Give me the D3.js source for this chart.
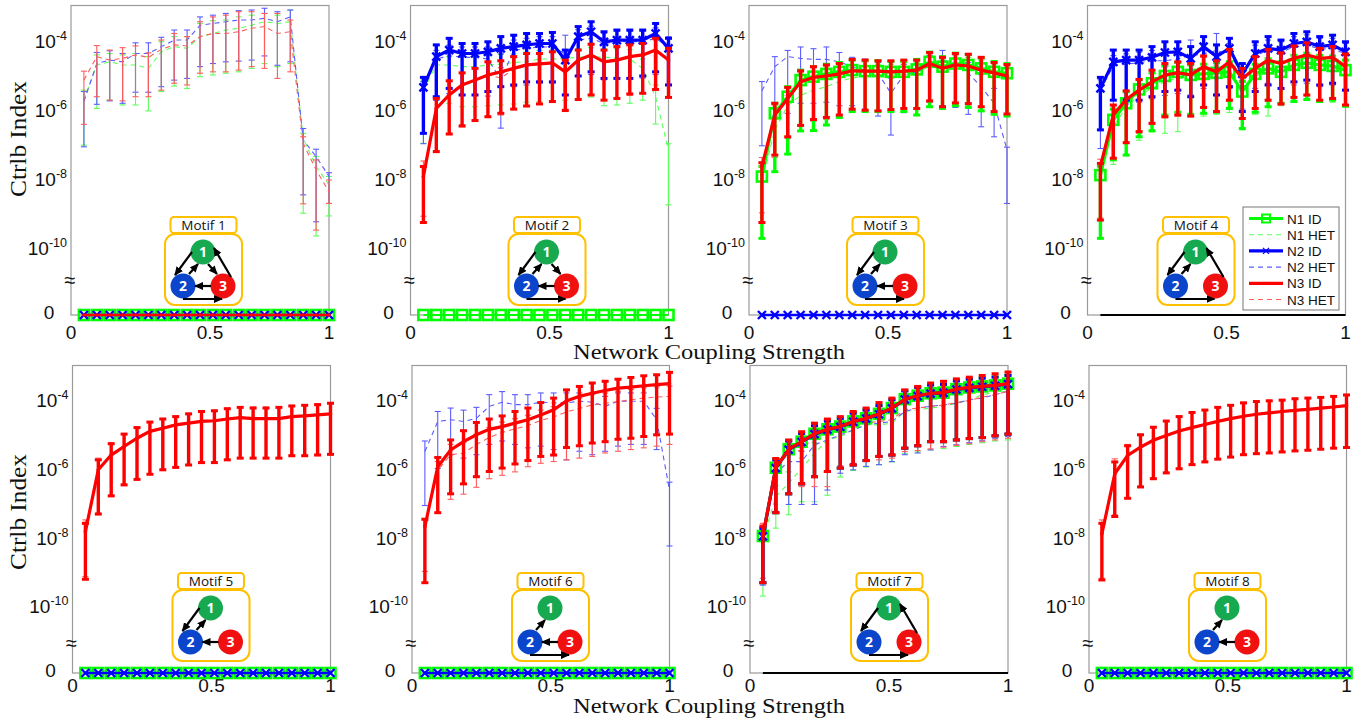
<!DOCTYPE html>
<html><head><meta charset="utf-8">
<script src="https://cdn.jsdelivr.net/npm/d3@7/dist/d3.min.js"></script>
<style>body{margin:0;background:#fff}svg{display:block}</style>
</head><body>
<svg id="c" width="1364" height="720"></svg>
<script>
// ---------------- DATA (values are log10 of Ctrlb Index: [mean, lower, upper]) ----------------
const xVals = [0.05,0.10,0.15,0.20,0.25,0.30,0.35,0.40,0.45,0.50,0.55,0.60,0.65,0.70,0.75,0.80,0.85,0.90,0.95,1.00];
const xTicks = [0, 0.5, 1];
const yTickExps = [-4, -6, -8, -10];
const seriesNames = ["N1 ID","N1 HET","N2 ID","N2 HET","N3 ID","N3 HET"];
const motifNames = ["Motif 1","Motif 2","Motif 3","Motif 4","Motif 5","Motif 6","Motif 7","Motif 8"];
const motifEdges = [
  ["1>2","2>1","1>3","3>1","3>2","2>3"],
  ["1>2","2>1","1>3","3>2","2>3"],
  ["1>2","2>1","3>2","2>3"],
  ["1>2","2>1","3>1","2>3"],
  ["1>2","2>1","3>2"],
  ["2>1","3>2","2>3"],
  ["1>2","3>1","2>3"],
  ["2>1","3>2"]
];
const ZERO = [0,0,0,0,0,0,0,0,0,0,0,0,0,0,0,0,0,0,0,0];

const p1_n1het = [[-5.74,-7.04,-5.45],[-4.72,-5.98,-4.43],[-4.63,-5.74,-4.39],[-4.72,-5.88,-4.43],[-4.72,-5.88,-4.39],[-4.82,-6.05,-4.48],[-4.34,-5.49,-4.05],[-4.19,-5.33,-3.90],[-4.24,-5.40,-3.90],[-3.90,-5.06,-3.52],[-3.81,-5.01,-3.44],[-3.71,-4.96,-3.42],[-3.66,-4.92,-3.33],[-3.57,-4.82,-3.28],[-3.47,-4.68,-3.23],[-3.52,-4.77,-3.28],[-3.47,-4.68,-3.13],[-6.85,-9.01,-6.70],[-7.66,-9.67,-7.37],[-8.19,-9.09,-7.95]];
const p1_n2het = [[-5.78,-7.09,-5.49],[-4.68,-5.86,-4.36],[-4.58,-5.76,-4.31],[-4.63,-5.83,-4.39],[-4.39,-5.51,-4.08],[-4.39,-5.51,-4.08],[-4.19,-5.35,-3.92],[-4.00,-5.16,-3.71],[-4.00,-5.11,-3.71],[-3.57,-4.77,-3.33],[-3.52,-4.68,-3.28],[-3.47,-4.63,-3.23],[-3.42,-4.61,-3.15],[-3.42,-4.58,-3.13],[-3.37,-4.46,-3.08],[-3.47,-4.73,-3.18],[-3.33,-4.63,-3.13],[-6.89,-8.48,-6.56],[-7.37,-9.26,-7.16],[-7.95,-8.73,-7.84]];
const p1_n3het = [[-5.16,-6.44,-4.90],[-4.48,-5.64,-4.16],[-4.58,-5.74,-4.29],[-4.53,-5.76,-4.22],[-4.43,-5.64,-4.17],[-4.50,-5.64,-4.37],[-4.27,-5.45,-4.00],[-4.14,-5.25,-3.81],[-4.17,-5.30,-3.90],[-3.90,-4.96,-3.47],[-3.81,-4.92,-3.33],[-3.81,-4.92,-3.28],[-3.76,-4.87,-3.18],[-3.66,-4.77,-3.18],[-3.61,-4.82,-3.23],[-3.81,-5.11,-3.23],[-3.76,-4.92,-3.42],[-6.99,-8.74,-6.80],[-7.76,-9.50,-7.47],[-8.39,-8.73,-8.05]];

const p2_n1het = [[-5.45,-6.99,-5.16],[-4.72,-5.74,-4.48],[-4.72,-5.83,-4.48],[-4.77,-5.93,-4.48],[-4.77,-5.93,-4.50],[-4.72,-5.90,-4.45],[-4.70,-5.88,-4.42],[-4.65,-5.85,-4.40],[-4.62,-5.80,-4.35],[-4.55,-5.78,-4.30],[-4.55,-5.75,-4.30],[-4.53,-5.74,-4.30],[-4.50,-5.70,-4.25],[-4.48,-5.65,-4.22],[-4.50,-5.90,-4.25],[-4.52,-5.88,-4.25],[-4.55,-5.83,-4.28],[-4.82,-5.74,-4.55],[-5.64,-6.43,-5.30],[-7.18,-8.77,-7.00]];
const p2_n2het = [[-5.45,-7.00,-5.20],[-4.55,-5.75,-4.30],[-4.45,-5.55,-4.15],[-4.50,-5.60,-4.20],[-4.50,-5.60,-4.20],[-4.55,-5.62,-4.20],[-5.15,-6.55,-4.40],[-4.30,-5.35,-4.00],[-4.25,-5.30,-3.95],[-4.20,-5.25,-3.90],[-4.20,-5.25,-3.90],[-4.40,-5.60,-3.86],[-4.00,-5.05,-3.70],[-3.95,-5.00,-3.60],[-4.10,-5.15,-3.80],[-4.05,-5.10,-3.75],[-4.05,-5.10,-3.75],[-4.05,-5.10,-3.75],[-3.95,-5.00,-3.65],[-4.20,-5.30,-3.90]];
const p2_n3het = [[-7.80,-9.10,-7.50],[-6.00,-7.20,-5.70],[-5.55,-6.70,-5.20],[-5.30,-6.45,-4.95],[-5.15,-6.30,-4.80],[-5.00,-6.20,-4.65],[-5.10,-6.17,-4.80],[-4.85,-6.00,-4.50],[-4.75,-5.90,-4.40],[-4.70,-5.85,-4.40],[-4.65,-5.75,-4.35],[-4.90,-6.00,-4.60],[-4.60,-5.70,-4.30],[-4.45,-5.60,-4.15],[-4.60,-5.75,-4.30],[-4.55,-5.70,-4.20],[-4.50,-5.60,-4.15],[-4.45,-5.55,-4.10],[-4.35,-5.45,-4.00],[-4.55,-5.65,-4.25]];
const p2_n2id = [[-5.37,-6.70,-5.08],[-4.48,-5.64,-4.14],[-4.29,-5.40,-3.95],[-4.39,-5.59,-4.10],[-4.39,-5.59,-4.10],[-4.34,-5.49,-4.05],[-4.24,-5.35,-3.90],[-4.19,-5.30,-3.86],[-4.14,-5.21,-3.81],[-4.10,-5.21,-3.81],[-4.10,-5.21,-3.78],[-4.58,-5.59,-4.29],[-3.90,-5.04,-3.61],[-3.76,-4.92,-3.47],[-4.05,-5.11,-3.76],[-4.00,-5.11,-3.71],[-4.00,-5.11,-3.71],[-4.00,-5.04,-3.71],[-3.81,-4.92,-3.52],[-4.24,-5.30,-3.95]];
const p2_n3id = [[-7.95,-9.28,-7.66],[-5.98,-7.23,-5.69],[-5.59,-6.72,-5.18],[-5.30,-6.49,-4.95],[-5.16,-6.33,-4.82],[-5.01,-6.22,-4.63],[-4.92,-6.12,-4.60],[-4.82,-6.00,-4.48],[-4.72,-5.91,-4.39],[-4.69,-5.85,-4.39],[-4.66,-5.78,-4.34],[-4.92,-6.04,-4.58],[-4.58,-5.72,-4.29],[-4.43,-5.59,-4.12],[-4.63,-5.74,-4.29],[-4.58,-5.69,-4.19],[-4.48,-5.56,-4.14],[-4.43,-5.54,-4.10],[-4.29,-5.43,-3.95],[-4.58,-5.66,-4.24]];

const p3_n1het = [[-8.10,-9.74,-7.80],[-6.60,-7.81,-6.30],[-5.90,-7.30,-5.60],[-5.60,-6.63,-5.30],[-5.45,-6.60,-5.15],[-5.35,-6.45,-5.05],[-5.20,-6.24,-4.90],[-5.10,-6.07,-4.80],[-5.05,-6.07,-4.75],[-5.00,-6.07,-4.70],[-5.00,-6.07,-4.70],[-5.00,-6.07,-4.70],[-4.95,-6.17,-4.65],[-4.75,-5.93,-4.45],[-4.85,-5.98,-4.55],[-4.75,-5.90,-4.45],[-4.80,-5.95,-4.50],[-4.90,-6.05,-4.60],[-5.00,-6.15,-4.70],[-5.05,-6.20,-4.75]];
const p3_n2het = [[-5.47,-7.06,-5.20],[-4.77,-6.20,-4.48],[-4.48,-6.12,-4.30],[-4.53,-5.83,-4.20],[-4.56,-5.83,-4.25],[-4.56,-5.80,-4.20],[-4.63,-5.90,-4.36],[-4.77,-5.90,-4.50],[-4.87,-6.00,-4.55],[-4.96,-6.20,-4.65],[-5.54,-6.75,-5.10],[-5.01,-6.10,-4.70],[-4.92,-6.00,-4.60],[-4.77,-5.80,-4.45],[-4.58,-5.90,-4.30],[-4.68,-5.95,-4.40],[-4.96,-6.15,-4.65],[-5.35,-6.51,-5.00],[-5.83,-6.80,-5.40],[-7.18,-8.73,-7.10]];
const p3_n3het = [[-7.60,-9.00,-7.40],[-6.20,-7.40,-5.90],[-5.70,-6.85,-5.40],[-5.25,-6.50,-4.95],[-5.10,-6.35,-4.80],[-5.05,-6.30,-4.75],[-5.00,-6.20,-4.70],[-4.90,-6.05,-4.60],[-4.92,-6.05,-4.60],[-4.92,-6.05,-4.62],[-4.93,-6.05,-4.62],[-4.90,-6.00,-4.60],[-4.88,-6.00,-4.60],[-4.70,-5.80,-4.40],[-4.80,-5.95,-4.52],[-4.73,-5.85,-4.42],[-4.76,-5.88,-4.45],[-4.88,-5.95,-4.55],[-4.96,-6.08,-4.68],[-5.05,-6.15,-4.75]];
const p3_n1id = [[-7.95,-9.74,-7.66],[-6.12,-7.81,-5.83],[-5.64,-7.30,-5.35],[-5.16,-6.63,-4.87],[-5.06,-6.62,-4.77],[-4.98,-6.46,-4.70],[-4.92,-6.24,-4.65],[-4.87,-6.07,-4.58],[-4.90,-6.07,-4.60],[-4.90,-6.07,-4.60],[-4.92,-6.07,-4.62],[-4.92,-6.07,-4.62],[-4.85,-6.17,-4.56],[-4.63,-5.93,-4.35],[-4.77,-5.98,-4.48],[-4.68,-5.90,-4.38],[-4.72,-5.95,-4.42],[-4.82,-6.05,-4.52],[-4.92,-6.15,-4.62],[-4.96,-6.20,-4.68]];
const p3_n3id = [[-7.66,-9.28,-7.55],[-6.17,-7.33,-5.83],[-5.69,-6.80,-5.37],[-5.21,-6.47,-4.89],[-5.08,-6.30,-4.77],[-5.04,-6.24,-4.72],[-4.98,-6.17,-4.68],[-4.89,-6.00,-4.56],[-4.90,-6.03,-4.58],[-4.90,-6.05,-4.60],[-4.92,-6.01,-4.60],[-4.90,-5.98,-4.58],[-4.87,-5.98,-4.58],[-4.68,-5.76,-4.36],[-4.82,-5.93,-4.50],[-4.72,-5.82,-4.39],[-4.75,-5.84,-4.41],[-4.87,-5.93,-4.50],[-4.95,-6.07,-4.65],[-5.04,-6.14,-4.71]];

const p4_n1het = [[-7.95,-9.74,-7.70],[-6.50,-7.60,-6.20],[-5.95,-7.33,-5.70],[-5.60,-6.90,-5.30],[-5.40,-6.60,-5.10],[-5.20,-6.70,-4.90],[-5.10,-6.65,-4.80],[-5.15,-6.20,-4.85],[-5.10,-6.20,-4.80],[-5.05,-6.15,-4.75],[-5.00,-6.10,-4.70],[-5.45,-6.60,-5.15],[-5.05,-6.15,-4.75],[-4.90,-6.20,-4.60],[-4.95,-5.90,-4.65],[-4.80,-5.80,-4.50],[-4.75,-5.75,-4.45],[-4.80,-5.80,-4.50],[-4.80,-5.80,-4.50],[-4.90,-5.95,-4.60]];
const p4_n2het = [[-5.45,-7.14,-5.15],[-4.75,-5.90,-4.45],[-4.70,-5.85,-4.40],[-4.65,-5.80,-4.35],[-4.60,-5.70,-4.30],[-4.60,-5.60,-4.30],[-4.55,-5.55,-4.25],[-4.45,-5.59,-4.00],[-4.40,-5.40,-4.10],[-4.30,-5.59,-3.81],[-4.40,-5.40,-4.10],[-5.00,-6.00,-4.70],[-4.45,-5.40,-4.15],[-4.30,-5.25,-4.00],[-4.35,-5.40,-4.05],[-4.20,-5.30,-3.90],[-4.15,-5.25,-3.85],[-4.25,-5.35,-3.95],[-4.25,-5.30,-3.95],[-4.40,-5.45,-4.10]];
const p4_n3het = [[-7.70,-9.15,-7.45],[-6.20,-7.45,-5.90],[-5.75,-7.00,-5.50],[-5.45,-6.70,-5.15],[-5.22,-6.45,-4.90],[-5.02,-6.25,-4.70],[-4.97,-6.20,-4.65],[-5.02,-6.22,-4.70],[-4.80,-5.98,-4.50],[-4.93,-6.10,-4.62],[-4.65,-5.78,-4.30],[-5.10,-6.30,-4.85],[-4.83,-6.00,-4.50],[-4.60,-5.78,-4.30],[-4.70,-5.88,-4.40],[-4.55,-5.70,-4.20],[-4.45,-5.62,-4.10],[-4.55,-5.77,-4.25],[-4.52,-5.72,-4.20],[-4.78,-5.90,-4.45]];
const p4_n1id = [[-7.91,-9.74,-7.65],[-6.31,-7.47,-6.00],[-5.83,-7.33,-5.50],[-5.43,-6.80,-5.15],[-5.25,-6.63,-4.95],[-5.04,-6.17,-4.75],[-4.92,-6.09,-4.65],[-5.01,-6.15,-4.72],[-4.98,-6.12,-4.70],[-4.95,-6.09,-4.66],[-4.92,-5.98,-4.63],[-5.49,-6.56,-5.20],[-4.98,-6.09,-4.70],[-4.82,-5.93,-4.54],[-4.92,-5.83,-4.63],[-4.72,-5.78,-4.44],[-4.66,-5.72,-4.38],[-4.72,-5.78,-4.44],[-4.75,-5.74,-4.46],[-4.87,-5.91,-4.58]];
const p4_n2id = [[-5.40,-6.60,-5.08],[-4.63,-5.74,-4.29],[-4.58,-5.74,-4.29],[-4.58,-5.74,-4.29],[-4.50,-5.64,-4.19],[-4.36,-5.49,-4.05],[-4.34,-5.45,-4.05],[-4.53,-5.64,-4.19],[-4.19,-5.30,-3.90],[-4.48,-5.59,-4.14],[-4.24,-5.35,-3.95],[-4.98,-6.07,-4.68],[-4.39,-5.49,-4.05],[-4.24,-5.30,-3.90],[-4.29,-5.40,-4.00],[-4.10,-5.21,-3.81],[-4.05,-5.16,-3.76],[-4.19,-5.30,-3.90],[-4.14,-5.25,-3.86],[-4.34,-5.45,-4.05]];
const p4_n3id = [[-7.66,-9.21,-7.57],[-6.17,-7.42,-5.88],[-5.72,-6.97,-5.47],[-5.45,-6.65,-5.14],[-5.21,-6.41,-4.87],[-5.01,-6.22,-4.68],[-4.95,-6.17,-4.63],[-5.01,-6.20,-4.68],[-4.77,-5.95,-4.46],[-4.92,-6.07,-4.60],[-4.63,-5.74,-4.27],[-5.11,-6.27,-4.82],[-4.82,-5.98,-4.48],[-4.58,-5.74,-4.27],[-4.68,-5.85,-4.37],[-4.53,-5.66,-4.17],[-4.43,-5.59,-4.08],[-4.53,-5.74,-4.24],[-4.50,-5.69,-4.19],[-4.77,-5.88,-4.40]];

const p5_n3het = [[-7.75,-9.15,-7.50],[-6.00,-7.30,-5.70],[-5.58,-6.78,-5.25],[-5.33,-6.45,-4.98],[-5.10,-6.30,-4.79],[-4.90,-6.15,-4.63],[-4.81,-6.02,-4.54],[-4.71,-5.95,-4.47],[-4.66,-5.88,-4.39],[-4.61,-5.81,-4.32],[-4.59,-5.81,-4.30],[-4.54,-5.73,-4.24],[-4.50,-5.68,-4.20],[-4.52,-5.68,-4.21],[-4.52,-5.68,-4.21],[-4.52,-5.68,-4.20],[-4.47,-5.61,-4.16],[-4.45,-5.61,-4.14],[-4.42,-5.59,-4.12],[-4.39,-5.57,-4.08]];
const p5_n3id = [[-7.84,-9.23,-7.60],[-6.04,-7.33,-5.75],[-5.61,-6.80,-5.28],[-5.36,-6.48,-5.00],[-5.12,-6.32,-4.81],[-4.92,-6.17,-4.65],[-4.83,-6.04,-4.56],[-4.73,-5.97,-4.49],[-4.68,-5.90,-4.41],[-4.63,-5.83,-4.34],[-4.61,-5.83,-4.32],[-4.56,-5.75,-4.26],[-4.52,-5.70,-4.22],[-4.55,-5.70,-4.24],[-4.55,-5.70,-4.24],[-4.55,-5.70,-4.22],[-4.49,-5.63,-4.18],[-4.47,-5.63,-4.16],[-4.44,-5.61,-4.14],[-4.41,-5.59,-4.10]];

const p6_n2het = [[-5.51,-7.08,-5.20],[-4.63,-6.00,-4.34],[-4.58,-5.60,-4.24],[-4.63,-5.70,-4.30],[-4.54,-5.60,-4.22],[-4.19,-5.30,-3.85],[-4.07,-5.20,-3.76],[-4.14,-5.30,-3.85],[-4.14,-5.40,-3.85],[-4.07,-5.35,-3.80],[-4.09,-5.45,-3.80],[-4.09,-5.75,-3.80],[-4.04,-5.50,-3.80],[-4.07,-5.60,-3.80],[-4.19,-5.50,-3.90],[-4.04,-5.35,-3.80],[-4.04,-5.30,-3.80],[-4.04,-5.30,-3.80],[-4.58,-5.45,-4.25],[-6.63,-8.26,-6.40]];
const p6_n3het = [[-7.75,-9.00,-7.50],[-6.05,-7.30,-5.80],[-5.60,-6.90,-5.30],[-5.56,-6.75,-5.25],[-5.30,-6.55,-5.00],[-5.10,-6.30,-4.80],[-4.95,-6.20,-4.65],[-4.85,-6.10,-4.55],[-4.75,-5.95,-4.45],[-4.60,-5.85,-4.30],[-4.50,-5.80,-4.20],[-4.35,-5.75,-4.05],[-4.25,-5.70,-3.95],[-4.15,-5.65,-3.85],[-4.10,-5.55,-3.80],[-4.05,-5.50,-3.75],[-4.00,-5.45,-3.70],[-3.95,-5.40,-3.65],[-3.92,-5.35,-3.62],[-3.90,-5.30,-3.60]];
const p6_n3id = [[-7.70,-9.33,-7.48],[-5.95,-7.29,-5.68],[-5.46,-6.74,-5.17],[-5.22,-6.45,-4.90],[-5.02,-6.24,-4.66],[-4.86,-6.09,-4.56],[-4.78,-5.99,-4.47],[-4.68,-5.87,-4.34],[-4.58,-5.77,-4.24],[-4.44,-5.65,-4.08],[-4.29,-5.61,-3.95],[-4.03,-5.39,-3.71],[-3.90,-5.34,-3.61],[-3.81,-5.26,-3.51],[-3.73,-5.22,-3.46],[-3.66,-5.15,-3.40],[-3.63,-5.12,-3.35],[-3.59,-5.07,-3.30],[-3.56,-5.02,-3.27],[-3.53,-5.00,-3.20]];

const p7_n1het = [[-8.07,-9.72,-7.80],[-6.82,-7.74,-6.50],[-6.43,-7.35,-6.10],[-6.00,-6.97,-5.70],[-5.56,-6.97,-5.25],[-5.17,-6.78,-4.90],[-5.07,-6.25,-4.80],[-4.88,-6.06,-4.60],[-4.73,-5.96,-4.45],[-4.73,-5.89,-4.45],[-4.68,-5.81,-4.40],[-4.34,-5.57,-4.05],[-4.29,-5.52,-4.00],[-4.24,-5.46,-3.95],[-4.19,-5.42,-3.90],[-4.10,-5.36,-3.80],[-4.00,-5.30,-3.70],[-3.85,-5.25,-3.60],[-3.78,-5.20,-3.52],[-3.75,-5.17,-3.48]];
const p7_n2het = [[-8.00,-9.40,-7.75],[-6.14,-7.30,-5.85],[-5.80,-7.05,-5.50],[-5.80,-7.05,-5.50],[-5.31,-7.05,-5.00],[-5.17,-6.63,-4.88],[-5.02,-6.14,-4.75],[-4.88,-6.04,-4.60],[-4.73,-5.94,-4.45],[-4.68,-5.89,-4.40],[-4.63,-5.80,-4.35],[-4.34,-5.60,-4.05],[-4.24,-5.55,-3.95],[-4.19,-5.46,-3.90],[-4.15,-5.36,-3.85],[-4.10,-5.31,-3.80],[-4.00,-5.25,-3.72],[-3.95,-5.18,-3.67],[-3.85,-5.12,-3.58],[-3.75,-5.07,-3.48]];
const p7_n3het = [[-8.00,-9.20,-7.60],[-6.00,-7.25,-5.75],[-5.56,-6.75,-5.25],[-5.46,-6.53,-5.15],[-5.07,-6.53,-4.78],[-4.88,-6.53,-4.60],[-4.80,-5.92,-4.52],[-4.73,-5.85,-4.45],[-4.68,-5.80,-4.40],[-4.63,-5.75,-4.35],[-4.58,-5.70,-4.30],[-4.29,-5.51,-4.00],[-4.24,-5.48,-3.95],[-4.19,-5.43,-3.90],[-4.15,-5.38,-3.87],[-4.08,-5.33,-3.80],[-4.02,-5.28,-3.74],[-3.92,-5.22,-3.65],[-3.85,-5.17,-3.58],[-3.75,-5.12,-3.48]];
const p7_n1id = [[-7.97,-9.33,-7.72],[-5.98,-7.29,-5.73],[-5.44,-6.74,-5.19],[-5.22,-6.45,-4.97],[-4.99,-6.24,-4.74],[-4.86,-6.09,-4.61],[-4.78,-5.99,-4.53],[-4.63,-5.90,-4.38],[-4.54,-5.77,-4.29],[-4.41,-5.65,-4.16],[-4.24,-5.61,-3.99],[-3.98,-5.41,-3.73],[-3.88,-5.34,-3.63],[-3.81,-5.22,-3.56],[-3.79,-5.22,-3.54],[-3.69,-5.17,-3.44],[-3.64,-5.13,-3.39],[-3.61,-5.10,-3.36],[-3.58,-5.05,-3.33],[-3.53,-5.00,-3.28]];
const p7_n2id = [[-7.98,-9.33,-7.75],[-5.99,-7.29,-5.75],[-5.45,-6.74,-5.20],[-5.23,-6.45,-4.98],[-5.00,-6.24,-4.75],[-4.87,-6.09,-4.62],[-4.79,-5.99,-4.54],[-4.64,-5.90,-4.39],[-4.55,-5.77,-4.30],[-4.42,-5.65,-4.17],[-4.25,-5.61,-4.00],[-3.99,-5.41,-3.74],[-3.89,-5.34,-3.64],[-3.82,-5.22,-3.57],[-3.80,-5.22,-3.55],[-3.70,-5.17,-3.45],[-3.65,-5.13,-3.40],[-3.62,-5.10,-3.37],[-3.59,-5.05,-3.34],[-3.54,-5.00,-3.29]];
const p7_n3id = [[-7.97,-9.33,-7.68],[-5.98,-7.29,-5.71],[-5.44,-6.74,-5.17],[-5.22,-6.45,-4.93],[-4.99,-6.24,-4.68],[-4.86,-6.09,-4.56],[-4.78,-5.99,-4.49],[-4.63,-5.90,-4.34],[-4.54,-5.77,-4.24],[-4.41,-5.65,-4.08],[-4.24,-5.61,-3.95],[-3.98,-5.41,-3.71],[-3.88,-5.34,-3.61],[-3.81,-5.22,-3.51],[-3.79,-5.22,-3.46],[-3.69,-5.17,-3.39],[-3.64,-5.13,-3.34],[-3.61,-5.10,-3.29],[-3.58,-5.05,-3.24],[-3.53,-5.00,-3.19]];

const p8_n3het = [[-7.85,-9.20,-7.50],[-6.10,-7.35,-5.72],[-5.60,-6.85,-5.30],[-5.36,-6.52,-5.00],[-5.16,-6.28,-4.78],[-5.02,-6.11,-4.60],[-4.89,-5.99,-4.47],[-4.79,-5.87,-4.35],[-4.70,-5.79,-4.28],[-4.61,-5.71,-4.20],[-4.53,-5.65,-4.14],[-4.46,-5.58,-4.07],[-4.40,-5.55,-4.03],[-4.36,-5.53,-4.01],[-4.32,-5.50,-3.99],[-4.29,-5.47,-3.95],[-4.26,-5.45,-3.93],[-4.22,-5.42,-3.91],[-4.19,-5.39,-3.88],[-4.15,-5.37,-3.84]];
const p8_n3id = [[-7.91,-9.25,-7.60],[-6.16,-7.40,-5.81],[-5.62,-6.87,-5.34],[-5.38,-6.54,-5.02],[-5.18,-6.30,-4.80],[-5.04,-6.13,-4.62],[-4.91,-6.01,-4.49],[-4.81,-5.89,-4.37],[-4.72,-5.81,-4.30],[-4.63,-5.73,-4.22],[-4.55,-5.67,-4.16],[-4.48,-5.60,-4.09],[-4.42,-5.57,-4.05],[-4.38,-5.55,-4.03],[-4.34,-5.52,-4.01],[-4.31,-5.49,-3.97],[-4.28,-5.47,-3.95],[-4.24,-5.44,-3.93],[-4.21,-5.41,-3.90],[-4.17,-5.39,-3.86]];

// series per panel: node, kind ('het' | 'id' | 'zero'), data
const panelSeries = [
  [{n:1,k:'het',d:p1_n1het},{n:2,k:'het',d:p1_n2het},{n:3,k:'het',d:p1_n3het},{n:1,k:'zero',d:ZERO},{n:2,k:'zero',d:ZERO},{n:3,k:'zero',d:ZERO}],
  [{n:1,k:'het',d:p2_n1het},{n:2,k:'het',d:p2_n2het},{n:3,k:'het',d:p2_n3het},{n:2,k:'id',d:p2_n2id},{n:3,k:'id',d:p2_n3id},{n:1,k:'zero',d:ZERO}],
  [{n:1,k:'het',d:p3_n1het},{n:2,k:'het',d:p3_n2het},{n:3,k:'het',d:p3_n3het},{n:1,k:'id',d:p3_n1id},{n:3,k:'id',d:p3_n3id},{n:2,k:'zero',d:ZERO}],
  [{n:1,k:'het',d:p4_n1het},{n:2,k:'het',d:p4_n2het},{n:3,k:'het',d:p4_n3het},{n:1,k:'id',d:p4_n1id},{n:2,k:'id',d:p4_n2id},{n:3,k:'id',d:p4_n3id}],
  [{n:3,k:'het',d:p5_n3het},{n:3,k:'id',d:p5_n3id},{n:1,k:'zero',d:ZERO},{n:2,k:'zero',d:ZERO}],
  [{n:2,k:'het',d:p6_n2het},{n:3,k:'het',d:p6_n3het},{n:3,k:'id',d:p6_n3id},{n:1,k:'zero',d:ZERO},{n:2,k:'zero',d:ZERO}],
  [{n:1,k:'het',d:p7_n1het},{n:2,k:'het',d:p7_n2het},{n:3,k:'het',d:p7_n3het},{n:1,k:'id',d:p7_n1id},{n:2,k:'id',d:p7_n2id},{n:3,k:'id',d:p7_n3id}],
  [{n:3,k:'het',d:p8_n3het},{n:3,k:'id',d:p8_n3id},{n:1,k:'zero',d:ZERO},{n:2,k:'zero',d:ZERO}]
];

// ---------------- LAYOUT ----------------
const rows = [
  {yHi:5.5, yLo:281.9, yZero:315, yBreak:281, xLab:339, motifTop:234},
  {yHi:365.5, yLo:640, yZero:673, yBreak:644, xLab:692, motifTop:590}
];
const layout = [
  {row:0,x0:71,x1:329,mdx:94},{row:0,x0:410.5,x1:668.5,mdx:98},{row:0,x0:749,x1:1007,mdx:98},{row:0,x0:1087.5,x1:1345.5,mdx:70},
  {row:1,x0:72.5,x1:330.5,mdx:100},{row:1,x0:412,x1:669.5,mdx:100},{row:1,x0:750,x1:1008,mdx:101},{row:1,x0:1089,x1:1346.5,mdx:100}
];
const ID_COL = {1:'#00ff00',2:'#0000ff',3:'#ff0000'};
const HET_COL = {1:'#5cff5c',2:'#5c5cff',3:'#ff5c5c'};
const NODE_COL = {1:'#16a950',2:'#0a45cc',3:'#f01010'};
const SANS = "'Liberation Sans', Arial, sans-serif";
const SERIF = "'Liberation Serif', 'DejaVu Serif', serif";

const svg = d3.select('#c');
const defs = svg.append('defs');
defs.append('marker').attr('id','ah').attr('markerUnits','userSpaceOnUse')
  .attr('markerWidth',9).attr('markerHeight',8).attr('refX',8).attr('refY',4).attr('orient','auto')
  .append('path').attr('d','M0,0 L9,4 L0,8 Z').attr('fill','#000');

function marker(g, n, cx, cy, big) {
  if (n === 1) {
    const s = big ? 10 : 8;
    g.append('rect').attr('x',cx-s/2).attr('y',cy-s/2).attr('width',s).attr('height',s)
      .attr('fill','none').attr('stroke',ID_COL[1]).attr('stroke-width',big?2.6:2);
  } else if (n === 2) {
    const s = big ? 4 : 3;
    g.append('path').attr('d',`M${cx-s},${cy-s}L${cx+s},${cy+s}M${cx-s},${cy+s}L${cx+s},${cy-s}`)
      .attr('stroke',ID_COL[2]).attr('stroke-width',big?2.4:1.2).attr('fill','none');
  } else {
    g.append('circle').attr('cx',cx).attr('cy',cy).attr('r',big?1.8:1.6).attr('fill',ID_COL[3]);
  }
}

layout.forEach((L, pi) => {
  const R = rows[L.row];
  const x = d3.scaleLinear().domain([0,1]).range([L.x0, L.x1]);
  const y = d3.scaleLog().domain([1e-11, 1e-3]).range([R.yLo, R.yHi]);
  const ey = e => y(Math.pow(10, e));
  const g = svg.append('g');

  // box
  g.append('rect').attr('x',L.x0).attr('y',R.yHi).attr('width',L.x1-L.x0).attr('height',R.yZero-R.yHi)
    .attr('fill','none').attr('stroke','#9a9a9a').attr('stroke-width',1.2);

  // y tick labels
  yTickExps.forEach(e => {
    const t = g.append('text').attr('x',L.x0-4).attr('y',ey(e)+7.5).attr('text-anchor','end')
      .attr('font-family',SANS).attr('font-size',19).attr('fill','#111');
    t.append('tspan').text('10');
    t.append('tspan').attr('dy',-8).attr('font-size',12.5).text('-' + Math.abs(e));
  });
  g.append('text').attr('x',L.x0-1).attr('y',R.yBreak+6).attr('text-anchor','middle')
    .attr('font-family',SANS).attr('font-size',20).attr('fill','#111').text('≈');
  g.append('text').attr('x',L.x0-22).attr('y',R.yZero+4).attr('text-anchor','middle')
    .attr('font-family',SANS).attr('font-size',19).attr('fill','#111').text('0');

  // x tick labels
  xTicks.forEach(v => {
    g.append('text').attr('x',x(v) + (v===0.5?10:0)).attr('y',R.xLab).attr('text-anchor','middle')
      .attr('font-family',SANS).attr('font-size',19).attr('fill','#111').text(v===0?'0':v===1?'1':String(v));
  });

  const series = panelSeries[pi];
  const hasZero = series.some(s => s.k === 'zero');
  if (!hasZero) {
    g.append('line').attr('x1',x(xVals[0])).attr('x2',x(1)).attr('y1',R.yZero).attr('y2',R.yZero)
      .attr('stroke','#000').attr('stroke-width',2);
  }

  const line = d3.line().x((d,i)=>x(xVals[i])).y(d=>ey(d[0]));

  // HET series
  series.filter(s=>s.k==='het').forEach(s => {
    const c = HET_COL[s.n];
    s.d.forEach((d,i) => {
      const xx = x(xVals[i]);
      g.append('line').attr('x1',xx).attr('x2',xx).attr('y1',ey(d[1])).attr('y2',ey(d[2]))
        .attr('stroke',c).attr('stroke-width',1.1);
      [d[1],d[2]].forEach(v => g.append('line').attr('x1',xx-3).attr('x2',xx+3).attr('y1',ey(v)).attr('y2',ey(v))
        .attr('stroke',c).attr('stroke-width',1.1));
    });
    g.append('path').attr('d',line(s.d)).attr('fill','none').attr('stroke',c)
      .attr('stroke-width',1.1).attr('stroke-dasharray','5,4');
  });

  // ID series
  series.filter(s=>s.k==='id').forEach(s => {
    const c = ID_COL[s.n];
    s.d.forEach((d,i) => {
      const xx = x(xVals[i]);
      g.append('line').attr('x1',xx).attr('x2',xx).attr('y1',ey(d[1])).attr('y2',ey(d[2]))
        .attr('stroke',c).attr('stroke-width',3.4);
      [d[1],d[2]].forEach(v => g.append('line').attr('x1',xx-3.5).attr('x2',xx+3.5).attr('y1',ey(v)).attr('y2',ey(v))
        .attr('stroke',c).attr('stroke-width',3));
    });
    g.append('path').attr('d',line(s.d)).attr('fill','none').attr('stroke',c).attr('stroke-width',3.2);
    s.d.forEach((d,i) => marker(g, s.n, x(xVals[i]), ey(d[0]), true));
  });

  // zero-valued ID series (drawn on the "0" level)
  const zy = v => v === 0 ? R.yZero : y(v);
  series.filter(s=>s.k==='zero').forEach(s => {
    const c = ID_COL[s.n];
    const zl = d3.line().x((d,i)=>x(xVals[i])).y(d=>zy(d));
    s.d.forEach((d,i) => marker(g, s.n, x(xVals[i]), zy(d), true));
    g.append('path').attr('d',zl(s.d)).attr('fill','none').attr('stroke',c).attr('stroke-width',s.n===1?2:2.4);
  });

  // motif diagram
  const bx = L.x0 + L.mdx, by = R.motifTop;
  const m = g.append('g').attr('transform',`translate(${bx},${by})`);
  m.append('rect').attr('x',5.5).attr('y',-17).attr('width',66).attr('height',16).attr('rx',3.5)
    .attr('fill','#fff').attr('stroke','#ffc000').attr('stroke-width',2);
  m.append('text').attr('x',38.5).attr('y',-4.2).attr('text-anchor','middle').attr('font-family',"'Open Sans', sans-serif")
    .attr('font-size',13.5).attr('fill','#111').text(motifNames[pi]);
  m.append('rect').attr('x',0).attr('y',0).attr('width',77).attr('height',71).attr('rx',10)
    .attr('fill','#fff').attr('stroke','#ffc000').attr('stroke-width',2);
  const nodes = {1:[38,18],2:[18,52],3:[58,52]};
  Object.entries(nodes).forEach(([k,p]) => {
    m.append('circle').attr('cx',p[0]).attr('cy',p[1]).attr('r',12.5).attr('fill',NODE_COL[k]);
    m.append('text').attr('x',p[0]).attr('y',p[1]+5).attr('text-anchor','middle').attr('font-family',"'Open Sans', sans-serif")
      .attr('font-weight','bold').attr('font-size',14).attr('fill','#fff').text(k);
  });
  const edgeGeo = {
    '1>2':[[27,18],[10,41]], '3>1':[[66,43],[49,14]], '2>1':[[24,40],[33,30]],
    '1>3':[[43,30],[52,40]], '3>2':[[46,52],[30,52]], '2>3':[[18,65],[57,65]]
  };
  motifEdges[pi].forEach(e => {
    const [a,b] = edgeGeo[e];
    m.append('line').attr('x1',a[0]).attr('y1',a[1]).attr('x2',b[0]).attr('y2',b[1])
      .attr('stroke','#000').attr('stroke-width',2.2).attr('marker-end','url(#ah)');
  });
});

// legend (in panel 4)
const lg = svg.append('g');
lg.append('rect').attr('x',1243).attr('y',207).attr('width',96).attr('height',103)
  .attr('fill','#fff').attr('stroke','#777').attr('stroke-width',1);
seriesNames.forEach((name,i) => {
  const yy = 218.5 + i*16.2;
  const n = Math.floor(i/2) + 1, het = i % 2 === 1;
  lg.append('line').attr('x1',1249).attr('x2',1283).attr('y1',yy).attr('y2',yy)
    .attr('stroke', het ? HET_COL[n] : ID_COL[n]).attr('stroke-width', het ? 1.1 : 3.2)
    .attr('stroke-dasharray', het ? '5,4' : null);
  if (!het) marker(lg, n, 1266, yy, false);
  lg.append('text').attr('x',1287).attr('y',yy+5).attr('font-family',SANS).attr('font-size',13.5)
    .attr('fill','#111').text(name);
});

// axis titles
[359, 713].forEach(yy => {
  svg.append('text').attr('x',709).attr('y',yy).attr('text-anchor','middle').attr('font-family',SERIF)
    .attr('font-size',22).attr('fill','#111').attr('textLength',272).attr('lengthAdjust','spacingAndGlyphs')
    .text('Network Coupling Strength');
});
[139, 512].forEach(yy => {
  svg.append('text').attr('transform',`translate(26,${yy}) rotate(-90)`).attr('text-anchor','middle')
    .attr('font-family',SERIF).attr('font-size',23).attr('fill','#111').attr('textLength',116)
    .attr('lengthAdjust','spacingAndGlyphs').text('Ctrlb Index');
});
</script>
</body></html>
